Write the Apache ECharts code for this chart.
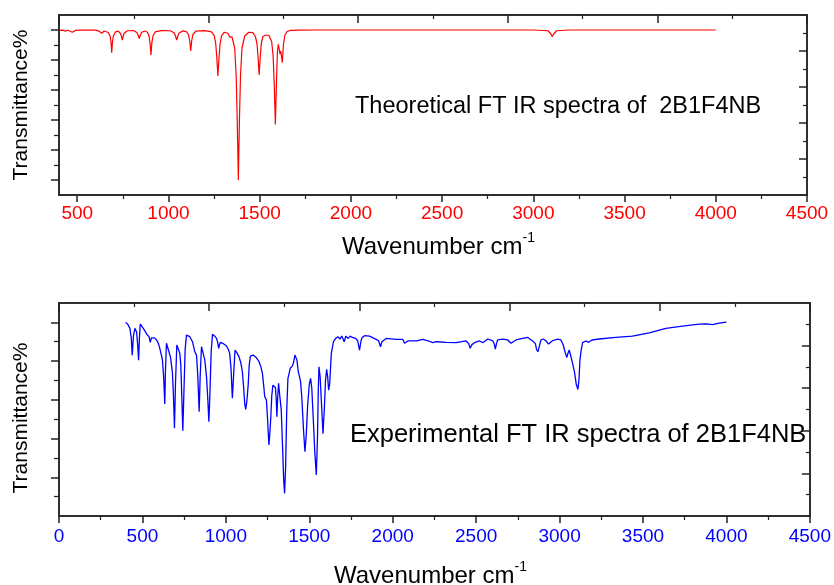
<!DOCTYPE html>
<html><head><meta charset="utf-8">
<script src="https://cdn.jsdelivr.net/npm/echarts@6/dist/echarts.min.js"></script>
<style>html,body{margin:0;padding:0;background:#fff}#c{width:834px;height:585px}</style>
</head><body><div id="c"></div>
<script>
// ---- Theoretical spectrum (wavenumber cm-1, transmittance in plotted units) ----
const theoWavenumber = [400,420,437,450,473,490,520,600,620,634,648,670,680,685,689,693,698,710,725,738,743,747,751,757,775,810,828,835,840,845,852,870,885,893,899,904,909,915,928,960,1010,1032,1040,1045,1050,1058,1080,1100,1110,1117,1122,1127,1134,1150,1200,1236,1251,1259,1265,1271,1277,1283,1291,1306,1325,1337,1348,1363,1371,1377,1383,1389,1395,1403,1418,1440,1462,1477,1485,1491,1497,1503,1509,1517,1530,1551,1566,1574,1580,1586,1592,1597,1602,1606,1611,1615,1619,1624,1630,1638,1650,1670,1720,1800,2500,3000,3080,3095,3104,3112,3128,3200,4000];
const theoTransmittance = [99.8,99.9,99.3,99.8,98.5,99.7,100,99.9,99.2,97.8,99.3,98.3,96,92,84.8,92,96,98.8,99.2,97.5,95.5,93.3,95.5,97.8,99.5,99.6,98.2,96.2,94.3,96.2,98.3,99.3,98.5,96.2,91.5,83.3,91.5,96,98.8,99.6,99.5,98,95.5,93.3,95.5,98,99.4,98.8,96.8,92.5,86,92.5,97,99.2,99.6,98.8,96.3,90.8,81.6,69.3,81.6,90.8,96.3,98.5,97.8,95.2,95.5,88,70,40,0,40,70,88,96,98.5,98.2,95.5,91,82,70,82,91,95.5,96.5,96.5,92,82,63,37,65,85,90.5,88,84,86,83,78.3,90,96.5,99,99.7,99.9,100,100,100,99.5,97.5,95.6,97.5,99.5,100,100];

// ---- Experimental spectrum ----
const expWavenumber = [399,412,425,433,439,446,455,465,472,477,482,487,500,512,525,540,547,554,561,572,585,596,604,614,620,627,634,638,644,655,668,680,686,692,698,706,714,724,730,736,742,748,756,764,774,784,800,814,824,832,840,846,854,864,874,884,892,898,904,912,920,932,944,950,957,962,968,985,1003,1015,1023,1031,1039,1046,1055,1065,1079,1090,1099,1107,1113,1119,1124,1129,1134,1140,1147,1155,1163,1180,1199,1210,1219,1226,1233,1238,1243,1250,1258,1263,1269,1275,1282,1290,1297,1302,1306,1311,1316,1322,1332,1340,1347,1352,1358,1365,1372,1380,1386,1392,1398,1405,1414,1420,1426,1434,1440,1448,1456,1465,1474,1482,1490,1500,1508,1515,1524,1533,1542,1549,1554,1558,1565,1575,1582,1590,1597,1604,1610,1616,1622,1632,1645,1658,1671,1683,1695,1709,1719,1733,1745,1758,1778,1790,1801,1810,1817,1831,1861,1901,1915,1927,1935,1941,1961,2021,2061,2071,2091,2141,2181,2211,2241,2261,2320,2380,2440,2455,2464,2475,2490,2520,2540,2570,2600,2608,2615,2622,2629,2659,2689,2709,2739,2779,2809,2839,2855,2862,2870,2878,2888,2902,2918,2934,2958,2988,3008,3022,3035,3044,3050,3058,3066,3078,3090,3100,3110,3116,3122,3130,3138,3158,3174,3194,3237,3337,3437,3537,3637,3736,3836,3880,3916,3956,4000];
const expTransmittance = [100,99,96.9,92,83.1,93,96.9,95,88,80.5,92,99.1,97.5,96,94,92.5,89.7,92,92.9,92,90.9,89,86.6,83,80.5,72,57.8,75,89.2,86,82.2,73.7,62,45.3,68,88.3,86.5,84,78,62,44,62,86,93.4,93,92.6,90,84.8,83.1,72,53.8,72,87.4,84,80.5,72,60,48.7,62,85,93.8,93,91.7,90,86.6,88.5,89.7,89,87.9,86,84,76,60.8,72,85.7,84.5,82.2,79,74.5,66,58,55.1,58,62.5,68,78,82.6,83.5,83.1,82,79.7,77,73.7,68,61.6,62,59.9,50,36.7,42,50.4,62,67.6,67,66.4,60,51.3,62,68.5,63,54.7,35,18,11.7,25,55,71.1,74,76.3,76,77.4,79,83.1,82.5,80.5,74.5,72.5,69.3,60,45,33.2,42,57,68,71.1,66,50,33,21.2,40,65,77.1,72,55,42.5,55,70,75.7,72,65,68,84,90,91.7,92.6,91.4,92.9,90,92.9,91.7,92.9,92.2,91.7,90.5,85.7,90.5,92.2,93.1,92.9,91.2,90.5,87.4,90,90.9,91.7,91.2,91.2,89.2,90.4,90.4,91.2,90.5,89.5,90,89.7,89.5,90.4,89,86.6,88.5,89.5,90.4,89.5,91.4,90.4,89,86.2,89,90.9,91.4,90.9,89.2,90.9,91.7,92.2,90.4,89,86,84.8,87.5,90.9,91.4,90.5,88.8,90.5,91.4,90.9,88.3,84,81.9,84,85.7,83,78.8,74,68,65.4,70,80.5,86,89.5,90.4,89.7,90.9,91.4,92.2,92.9,94.6,96.9,98.1,99.1,99.2,98.8,99.6,100.1];

// ---- Tick values ----
const topXMajor = [500,1000,1500,2000,2500,3000,3500,4000,4500];
const topXMinor = [750,1250,1750,2250,2750,3250,3750,4250];
const botXMajor = [0,500,1000,1500,2000,2500,3000,3500,4000,4500];
const botXMinor = [250,750,1250,1750,2250,2750,3250,3750,4250];
const topYMajor = [0,20,40,60,80,100];
const topYMinor = [10,30,50,70,90];
const botYMajor = [20,40,60,80,100];
const botYMinor = [10,30,50,70,90];
const frameMajor = [0,2,4,6,8,10];
const frameMinor = [1,3,5,7,9];
const rightMajor = [2,4,6,8];

const FONT = '"Liberation Sans", Arial, sans-serif';
const LINE = {show:true, onZero:false, lineStyle:{color:'#222', width:1.5}};

function tickAxis(o){
  return Object.assign({
    type:'value', splitLine:{show:false}, axisLine:LINE,
    axisLabel:{show:false}, scale:false
  }, o);
}
function ticks(vals, len, inside, w){
  return {show:true, inside:inside, length:len, customValues:vals, lineStyle:{color:'#222', width:w}};
}

const xAxis = [
  // top grid
  tickAxis({gridIndex:0, position:'bottom', min:400, max:4500,
    axisTick:ticks(topXMajor,7,false,1.5),
    axisLabel:{show:true, customValues:topXMajor, color:'#ff0000', fontSize:19, fontFamily:FONT, margin:9, formatter:v=>String(v)}}),
  tickAxis({gridIndex:0, position:'bottom', min:400, max:4500, axisTick:ticks(topXMinor,4,false,1.2)}),
  tickAxis({gridIndex:0, position:'top', min:0, max:10, axisTick:ticks(frameMajor,8,true,1.5)}),
  tickAxis({gridIndex:0, position:'top', min:0, max:10, axisTick:ticks(frameMinor,4,true,1.2)}),
  // bottom grid
  tickAxis({gridIndex:1, position:'bottom', min:0, max:4500,
    axisTick:ticks(botXMajor,7,false,1.5),
    axisLabel:{show:true, customValues:botXMajor, color:'#0000ff', fontSize:19, fontFamily:FONT, margin:11, formatter:v=>String(v)}}),
  tickAxis({gridIndex:1, position:'bottom', min:0, max:4500, axisTick:ticks(botXMinor,4,false,1.2)}),
  tickAxis({gridIndex:1, position:'top', min:0, max:10, axisTick:ticks(frameMajor,8,true,1.5)}),
  tickAxis({gridIndex:1, position:'top', min:0, max:10, axisTick:ticks(frameMinor,4,true,1.2)})
];

const yAxis = [
  tickAxis({gridIndex:0, position:'left', min:-10, max:110, axisTick:ticks(topYMajor,8,false,1.5)}),
  tickAxis({gridIndex:0, position:'left', min:-10, max:110, axisTick:ticks(topYMinor,5,false,1.2)}),
  tickAxis({gridIndex:0, position:'right', min:0, max:10, axisTick:ticks(rightMajor,8,true,1.5)}),
  tickAxis({gridIndex:0, position:'right', min:0, max:10, axisTick:ticks(frameMinor,4,true,1.2)}),
  tickAxis({gridIndex:1, position:'left', min:0, max:110, axisTick:ticks(botYMajor,8,false,1.5)}),
  tickAxis({gridIndex:1, position:'left', min:0, max:110, axisTick:ticks(botYMinor,5,false,1.2)}),
  tickAxis({gridIndex:1, position:'right', min:0, max:10, axisTick:ticks(rightMajor,8,true,1.5)}),
  tickAxis({gridIndex:1, position:'right', min:0, max:10, axisTick:ticks(frameMinor,4,true,1.2)})
];

const theoData = theoWavenumber.map((w,i)=>[w, theoTransmittance[i]]);
const expData = expWavenumber.map((w,i)=>[w, expTransmittance[i]]);

function titleText(x, y){
  return {type:'text', x:x, y:y, style:{
    text:'{a|Wavenumber cm}{b|-1}', fill:'#000', font:'24px '+FONT,
    verticalAlign:'middle', align:'left',
    rich:{a:{fontSize:24, fontFamily:FONT, fill:'#000', lineHeight:28, verticalAlign:'bottom'},
          b:{fontSize:14, fontFamily:FONT, fill:'#000', lineHeight:28, verticalAlign:'top'}}
  }};
}

const option = {
  animation:false,
  backgroundColor:'#fff',
  grid:[
    {left:59, top:15, width:748, height:180, containLabel:false},
    {left:59, top:303, width:753, height:213, containLabel:false}
  ],
  xAxis:xAxis,
  yAxis:yAxis,
  series:[
    {type:'line', xAxisIndex:0, yAxisIndex:0, data:theoData, showSymbol:false, symbol:'none',
     lineStyle:{color:'#ff0000', width:1.2}, smooth:false, clip:true},
    {type:'line', xAxisIndex:4, yAxisIndex:4, data:expData, showSymbol:false, symbol:'none',
     lineStyle:{color:'#0000ff', width:1.3}, smooth:false, clip:true}
  ],
  graphic:[
    titleText(342, 245),
    titleText(334, 574),
    {type:'text', x:21, y:105, rotation:Math.PI/2, style:{text:'Transmittance%', fill:'#000', font:'21px '+FONT, align:'center', verticalAlign:'middle'}},
    {type:'text', x:21, y:418, rotation:Math.PI/2, style:{text:'Transmittance%', fill:'#000', font:'21px '+FONT, align:'center', verticalAlign:'middle'}},
    {type:'text', x:355, y:107, style:{text:'Theoretical FT IR spectra of  2B1F4NB', fill:'#000', font:'23.5px '+FONT, align:'left', verticalAlign:'middle'}},
    {type:'text', x:350, y:435, style:{text:'Experimental FT IR spectra of 2B1F4NB', fill:'#000', font:'25.5px '+FONT, align:'left', verticalAlign:'middle'}}
  ]
};
const chart = echarts.init(document.getElementById('c'), null, {renderer:'canvas'});
chart.setOption(option);
</script></body></html>
